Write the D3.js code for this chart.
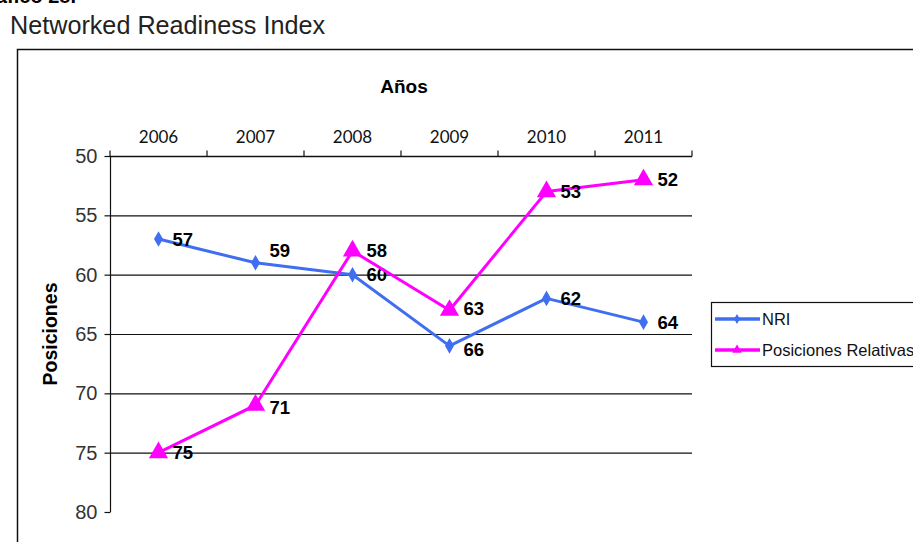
<!DOCTYPE html>
<html>
<head>
<meta charset="utf-8">
<script src="https://cdn.jsdelivr.net/npm/d3@7"></script>
<style>
  html, body { margin: 0; padding: 0; background: #fff; }
  svg { display: block; }
</style>
</head>
<body>
<svg id="chart" width="913" height="542"></svg>
<script>
// Years shown along the top axis
const years = ["2006", "2007", "2008", "2009", "2010", "2011"];
// Ranking positions per year
const nriValues = [57, 59, 60, 66, 62, 64];
const relativeValues = [75, 71, 58, 63, 53, 52];
// Y-axis ticks (reversed: better rank at top)
const yTicks = [50, 55, 60, 65, 70, 75, 80];
const gridValues = [55, 60, 65, 70, 75];
const seriesNames = ["NRI", "Posiciones Relativas"];

// Small vertical nudges for the value labels so they clear the lines
const nriLabelDy = [0, -12, 0, 4, 0, 0];
const relLabelDy = [0, 2, 0, -2, 0, 0];

const svg = d3.select("#chart");
const plot = { left: 110, right: 692, top: 156, bottom: 512 };

const blue = "#3f6ff0";
const magenta = "#ff00ff";

// Heading above the chart frame
svg.append("text")
  .attr("x", 76).attr("y", 3)
  .attr("text-anchor", "end")
  .attr("font-family", "Arial, 'Liberation Sans', sans-serif")
  .attr("font-weight", "bold")
  .attr("font-size", 20)
  .attr("fill", "#000")
  .text("Gráfico 28.");

svg.append("text")
  .attr("x", 10).attr("y", 34)
  .attr("font-family", "Arial, 'Liberation Sans', sans-serif")
  .attr("font-size", 25.2)
  .attr("fill", "#222")
  .text("Networked Readiness Index");

// Chart frame
svg.append("rect")
  .attr("x", 17.5).attr("y", 49.5)
  .attr("width", 1000).attr("height", 600)
  .attr("fill", "none")
  .attr("stroke", "#111")
  .attr("stroke-width", 1.5);

const x = d3.scaleBand().domain(years).range([plot.left, plot.right]);
const y = d3.scaleLinear().domain([50, 80]).range([plot.top, plot.bottom]);
const cx = d => x(d) + x.bandwidth() / 2;

// Horizontal gridlines
svg.append("g")
  .selectAll("line")
  .data(gridValues)
  .join("line")
  .attr("x1", plot.left).attr("x2", plot.right)
  .attr("y1", d => y(d) + 0.5).attr("y2", d => y(d) + 0.5)
  .attr("stroke", "#111")
  .attr("stroke-width", 1.2);

// Top category axis
const xAxis = svg.append("g")
  .attr("transform", `translate(0,${plot.top + 0.5})`)
  .call(d3.axisTop(x).tickSize(0).tickPadding(14));
xAxis.select(".domain").attr("stroke", "#111").attr("stroke-width", 1.5)
  .attr("d", `M${plot.left},0H${plot.right}`);
xAxis.selectAll("text")
  .attr("font-family", "Lato, 'Open Sans', sans-serif")
  .attr("font-size", 17)
  .attr("fill", "#111");
// Category boundary ticks
xAxis.selectAll(".bound")
  .data(d3.range(years.length + 1))
  .join("line")
  .attr("class", "bound")
  .attr("x1", i => plot.left + i * x.step())
  .attr("x2", i => plot.left + i * x.step())
  .attr("y1", -6).attr("y2", 0)
  .attr("stroke", "#111").attr("stroke-width", 1.2);

// Left value axis
const yAxis = svg.append("g")
  .attr("transform", `translate(${plot.left + 0.5},0)`)
  .call(d3.axisLeft(y).tickValues(yTicks).tickSize(6).tickPadding(7).tickFormat(d3.format("d")));
yAxis.select(".domain").attr("stroke", "#111").attr("stroke-width", 1.2)
  .attr("d", `M0,${plot.top}V${plot.bottom}`);
yAxis.selectAll(".tick line").attr("stroke", "#111").attr("stroke-width", 1.2);
yAxis.selectAll("text")
  .attr("font-family", "Arial, 'Liberation Sans', sans-serif")
  .attr("font-size", 20)
  .attr("fill", "#333");

// Axis titles
svg.append("text")
  .attr("x", 404).attr("y", 93)
  .attr("text-anchor", "middle")
  .attr("font-family", "Arial, 'Liberation Sans', sans-serif")
  .attr("font-weight", "bold")
  .attr("font-size", 19)
  .attr("fill", "#000")
  .text("Años");

svg.append("text")
  .attr("transform", "translate(57,334) rotate(-90)")
  .attr("text-anchor", "middle")
  .attr("font-family", "Arial, 'Liberation Sans', sans-serif")
  .attr("font-weight", "bold")
  .attr("font-size", 19.5)
  .attr("fill", "#000")
  .text("Posiciones");

const line = d3.line().x((d, i) => cx(years[i])).y(d => y(d));
const diamond = d3.symbol().type(d3.symbolDiamond).size(70);
const triangle = d3.symbol().type(d3.symbolTriangle).size(160);

function drawSeries(values, color, symbol, dyList) {
  const g = svg.append("g");
  g.append("path")
    .datum(values)
    .attr("d", line)
    .attr("fill", "none")
    .attr("stroke", color)
    .attr("stroke-width", 3)
    .attr("stroke-linejoin", "round");
  g.selectAll(".mk")
    .data(values)
    .join("path")
    .attr("class", "mk")
    .attr("d", symbol)
    .attr("transform", (d, i) => `translate(${cx(years[i])},${y(d)})`)
    .attr("fill", color);
  g.selectAll(".lbl")
    .data(values)
    .join("text")
    .attr("class", "lbl")
    .attr("x", (d, i) => cx(years[i]) + 14)
    .attr("y", (d, i) => y(d) + dyList[i])
    .attr("dy", "0.35em")
    .attr("font-family", "Arial, 'Liberation Sans', sans-serif")
    .attr("font-weight", "bold")
    .attr("font-size", 18.5)
    .attr("fill", "#000")
    .text(d => d);
}

drawSeries(nriValues, blue, diamond, nriLabelDy);
drawSeries(relativeValues, magenta, triangle, relLabelDy);

// Legend
const legend = svg.append("g");
legend.append("rect")
  .attr("x", 711.5).attr("y", 302.5)
  .attr("width", 260).attr("height", 64)
  .attr("fill", "#fff")
  .attr("stroke", "#111")
  .attr("stroke-width", 1.2);
const legendRows = [
  { name: seriesNames[0], color: blue, symbol: d3.symbol().type(d3.symbolDiamond).size(30), yy: 319 },
  { name: seriesNames[1], color: magenta, symbol: d3.symbol().type(d3.symbolTriangle).size(40), yy: 350 }
];
legendRows.forEach(r => {
  legend.append("line")
    .attr("x1", 715).attr("x2", 760)
    .attr("y1", r.yy).attr("y2", r.yy)
    .attr("stroke", r.color).attr("stroke-width", 3.5);
  legend.append("path")
    .attr("d", r.symbol)
    .attr("transform", `translate(737,${r.yy})`)
    .attr("fill", r.color);
  legend.append("text")
    .attr("x", 762).attr("y", r.yy)
    .attr("dy", "0.35em")
    .attr("font-family", "Arial, 'Liberation Sans', sans-serif")
    .attr("font-size", 16.5)
    .attr("fill", "#111")
    .text(r.name);
});
</script>
</body>
</html>
